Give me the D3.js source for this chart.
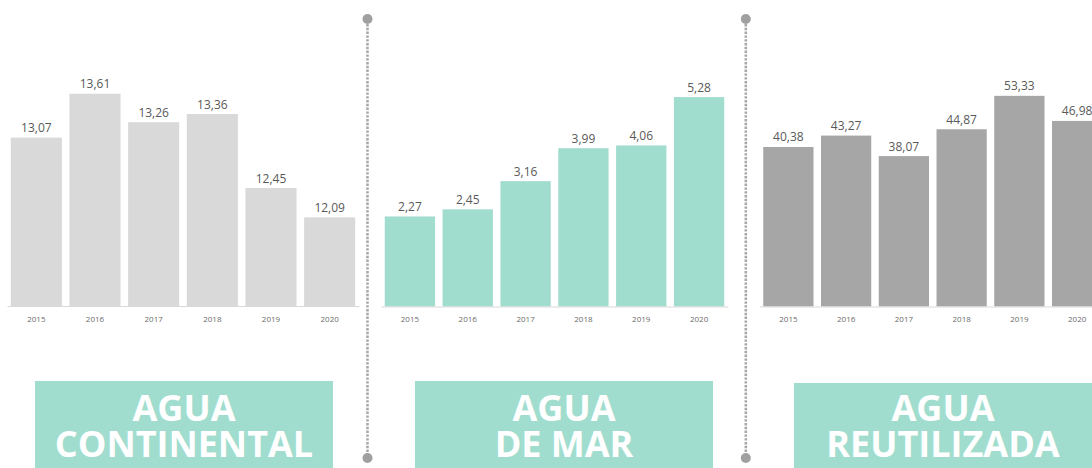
<!DOCTYPE html>
<html>
<head>
<meta charset="utf-8">
<script src="https://cdn.jsdelivr.net/npm/d3@7"></script>
<style>
  body { margin: 0; background: #fff; }
  svg { display: block; font-family: "Open Sans", sans-serif; }
</style>
</head>
<body>
<svg id="chart" width="1092" height="468"></svg>
<script>
// data
var years = ["2015", "2016", "2017", "2018", "2019", "2020"];
var continental = [13.07, 13.61, 13.26, 13.36, 12.45, 12.09];
var mar = [2.27, 2.45, 3.16, 3.99, 4.06, 5.28];
var reutilizada = [40.38, 43.27, 38.07, 44.87, 53.33, 46.98];
var titles = [["AGUA", "CONTINENTAL"], ["AGUA", "DE MAR"], ["AGUA", "REUTILIZADA"]];

var series = [continental, mar, reutilizada];
var colors = ["#d9d9d9", "#a1ddcf", "#a6a6a6"];
var domains = [[11, 14], [0, 6], [0, 60]];

// layout of each panel
var panels = [
    { x0: 7, x1: 359, top: 62, base: 306 },
    { x0: 381, x1: 728, top: 68.5, base: 306.5 },
    { x0: 759.5, x1: 1106, top: 69.5, base: 306.5 }
];
var boxes = [
    { x: 35, y: 381, w: 298 },
    { x: 415, y: 381, w: 298 },
    { x: 794, y: 383, w: 298 }
];
var seps = [367.5, 745.8];

var svg = d3.select("#chart");
var fmt = function(v) { return d3.format(".2f")(v).replace(".", ","); };

series.forEach(function(vals, k) {
    var p = panels[k];
    var x = d3.scaleBand().domain(years).range([p.x0, p.x1])
              .paddingInner(0.13).paddingOuter(0.065);
    var y = d3.scaleLinear().domain(domains[k]).range([p.base, p.top]);
    var g = svg.append("g");

    g.selectAll("rect.bar")
     .data(vals)
     .enter()
     .append("rect")
     .attr("class", "bar")
     .attr("x", function(d, i) { return x(years[i]); })
     .attr("y", function(d) { return y(d); })
     .attr("width", x.bandwidth())
     .attr("height", function(d) { return p.base - y(d); })
     .attr("fill", colors[k]);

    g.selectAll("text.val")
     .data(vals)
     .enter()
     .append("text")
     .attr("class", "val")
     .attr("x", function(d, i) { return x(years[i]) + x.bandwidth() / 2; })
     .attr("y", function(d) { return y(d) - 5.5; })
     .attr("text-anchor", "middle")
     .attr("font-size", 12)
     .attr("fill", "#595959")
     .text(fmt);

    var axis = d3.axisBottom(x).tickSize(0).tickPadding(10);
    var ag = g.append("g").attr("transform", "translate(0," + p.base + ")").call(axis);
    ag.select(".domain").attr("stroke", "#d9d9d9").attr("stroke-width", 1);
    ag.selectAll("text")
      .attr("font-family", "Open Sans, sans-serif")
      .attr("font-size", 8)
      .attr("fill", "#6b6b6b");

    // title box
    var b = boxes[k];
    svg.append("rect")
       .attr("x", b.x).attr("y", b.y)
       .attr("width", b.w).attr("height", 468 - b.y + 5)
       .attr("fill", "#a1ddcf");
    var t = svg.append("text")
       .attr("x", b.x + b.w / 2)
       .attr("y", 421)
       .attr("text-anchor", "middle")
       .attr("font-size", 36)
       .attr("font-weight", 700)
       .attr("fill", "#fff");
    t.selectAll("tspan")
     .data(titles[k])
     .enter()
     .append("tspan")
     .attr("x", b.x + b.w / 2)
     .attr("dy", function(d, j) { return j === 0 ? 0 : 36; })
     .text(function(d) { return d; });
});

// dotted separators
seps.forEach(function(sx) {
    svg.append("line")
       .attr("x1", sx).attr("x2", sx)
       .attr("y1", 24).attr("y2", 454)
       .attr("stroke", "#a6a6a6")
       .attr("stroke-width", 2.5)
       .attr("stroke-dasharray", "2.4,1.4");
    [19, 458].forEach(function(cy) {
        svg.append("circle")
           .attr("cx", sx).attr("cy", cy).attr("r", 5)
           .attr("fill", "#a0a0a0");
    });
});
</script>
</body>
</html>
